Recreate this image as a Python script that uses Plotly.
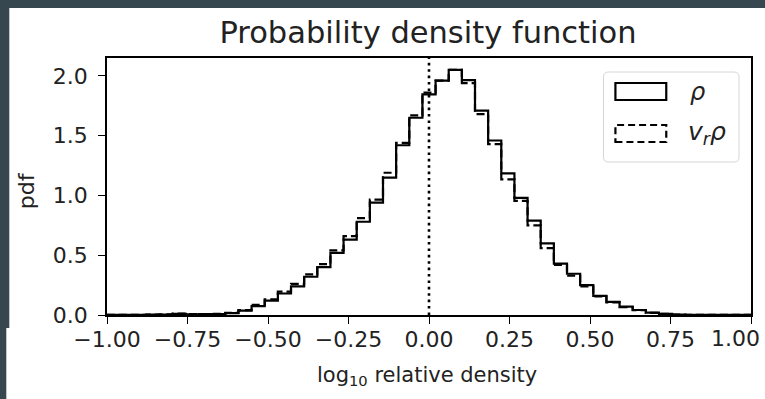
import numpy as np
import plotly.graph_objects as go

# ---- data ----
bin_edges = np.linspace(-1.0, 1.0, 50)  # 49 bins
rho_pdf = [0.002, 0.002, 0.002, 0.003, 0.004, 0.010, 0.006, 0.007, 0.008, 0.015,
           0.036, 0.075, 0.12, 0.18, 0.24, 0.32, 0.40, 0.52, 0.63, 0.78,
           0.94, 1.15, 1.42, 1.65, 1.845, 1.96, 2.05, 1.965, 1.71, 1.46,
           1.185, 0.98, 0.79, 0.60, 0.43, 0.345, 0.25, 0.16, 0.11, 0.07,
           0.042, 0.02, 0.01, 0.004, 0.002, 0.001, 0.001, 0.001, 0.001]
vr_rho_pdf = [0.002, 0.002, 0.002, 0.003, 0.005, 0.012, 0.007, 0.008, 0.009, 0.018,
              0.040, 0.085, 0.13, 0.195, 0.26, 0.34, 0.425, 0.54, 0.66, 0.81,
              0.965, 1.19, 1.44, 1.67, 1.86, 1.96, 2.05, 1.94, 1.68, 1.43,
              1.135, 0.955, 0.75, 0.56, 0.42, 0.33, 0.24, 0.155, 0.105, 0.065,
              0.04, 0.018, 0.009, 0.004, 0.002, 0.001, 0.001, 0.001, 0.001]
ref_line_x = 0.0
x_ticks = [-1.0, -0.75, -0.5, -0.25, 0.0, 0.25, 0.5, 0.75, 1.0]
x_tick_text = ["−1.00", "−0.75", "−0.50", "−0.25", "0.00", "0.25", "0.50", "0.75", ""]
last_x_tick_text = "1.00"
y_ticks = [0.0, 0.5, 1.0, 1.5, 2.0]
legend_labels = ["<i>ρ</i>", "<i>v<sub>r</sub>ρ</i>"]

W, H = 765, 399
L, R, T, B = 107, 753, 58, 315
PW, PH = R - L, B - T
DARK = "#37474f"
TXT = "#222"


def px(x):
    return (x - L) / PW


def py(y):
    return (B - y) / PH


def step_xy(edges, heights):
    xs = [edges[0]] + list(edges[:-1]) + [edges[-1]]
    ys = [0.0] + list(heights) + [0.0]
    return xs, ys


fig = go.Figure()
xs, ys = step_xy(bin_edges, rho_pdf)
fig.add_trace(go.Scatter(x=xs, y=ys, mode="lines", line=dict(color="black", width=2.2, shape="hv"),
                         showlegend=False, hoverinfo="skip"))
xs2, ys2 = step_xy(bin_edges, vr_rho_pdf)
fig.add_trace(go.Scatter(x=xs2, y=ys2, mode="lines",
                         line=dict(color="black", width=2.2, shape="hv", dash="8px,4px"),
                         showlegend=False, hoverinfo="skip"))

shapes = []
# dark page border strips (top and left)
shapes.append(dict(type="rect", xref="paper", yref="paper", x0=px(-5), x1=px(W + 5), y0=py(8), y1=py(-5),
                   fillcolor=DARK, line=dict(width=0), layer="below"))
shapes.append(dict(type="rect", xref="paper", yref="paper", x0=px(-5), x1=px(9), y0=py(328), y1=py(-5),
                   fillcolor=DARK, line=dict(width=0), layer="below"))
shapes.append(dict(type="rect", xref="paper", yref="paper", x0=px(-5), x1=px(6), y0=py(H + 5), y1=py(328),
                   fillcolor=DARK, line=dict(width=0), layer="below"))
# dotted reference line
shapes.append(dict(type="line", xref="x", yref="paper", x0=ref_line_x, x1=ref_line_x, y0=0, y1=1,
                   line=dict(color="black", width=2.6, dash="2.6px,3.8px")))
# legend frame (rounded)
lx0, lx1, ly0, ly1, r = 605, 741, 72, 162, 5
path = (f"M {px(lx0 + r)} {py(ly0)} L {px(lx1 - r)} {py(ly0)} "
        f"Q {px(lx1)} {py(ly0)} {px(lx1)} {py(ly0 + r)} L {px(lx1)} {py(ly1 - r)} "
        f"Q {px(lx1)} {py(ly1)} {px(lx1 - r)} {py(ly1)} L {px(lx0 + r)} {py(ly1)} "
        f"Q {px(lx0)} {py(ly1)} {px(lx0)} {py(ly1 - r)} L {px(lx0)} {py(ly0 + r)} "
        f"Q {px(lx0)} {py(ly0)} {px(lx0 + r)} {py(ly0)} Z")
shapes.append(dict(type="path", xref="paper", yref="paper", path=path,
                   fillcolor="rgba(255,255,255,0.8)", line=dict(color="#d6d6d6", width=1)))
# legend patches
shapes.append(dict(type="rect", xref="paper", yref="paper", x0=px(617), x1=px(668), y0=py(100), y1=py(83),
                   line=dict(color="black", width=2.2)))
shapes.append(dict(type="rect", xref="paper", yref="paper", x0=px(617), x1=px(668), y0=py(142), y1=py(125),
                   line=dict(color="black", width=2.2, dash="7px,4px")))

annotations = [
    dict(text=legend_labels[0], xref="paper", yref="paper", x=px(690), y=py(92), xanchor="left",
         yanchor="middle", showarrow=False, font=dict(size=24, color=TXT)),
    dict(text=legend_labels[1], xref="paper", yref="paper", x=px(688), y=py(133), xanchor="left",
         yanchor="middle", showarrow=False, font=dict(size=25, color=TXT)),
    dict(text="pdf", xref="paper", yref="paper", x=px(27), y=py(191), textangle=-90,
         xanchor="center", yanchor="middle", showarrow=False, font=dict(size=22, color=TXT)),
    dict(text="log<sub>10</sub> relative density", xref="paper", yref="paper", x=px(428), y=py(376),
         xanchor="center", yanchor="middle", showarrow=False, font=dict(size=21, color=TXT)),
    dict(text=last_x_tick_text, xref="paper", yref="paper", x=px(764), y=py(338),
         xanchor="right", yanchor="middle", showarrow=False, font=dict(size=22, color=TXT)),
]

fig.update_layout(
    width=W, height=H,
    margin=dict(l=L, r=W - R, t=T, b=H - B, pad=0),
    paper_bgcolor="white",
    plot_bgcolor="white",
    font=dict(family="DejaVu Sans", color=TXT, size=22),
    title=dict(text="Probability density function", x=px(429), xref="paper", xanchor="center",
               y=1 - 32 / H, yanchor="middle", font=dict(size=30.5, color=TXT)),
    xaxis=dict(range=[-1, 1], tickvals=x_ticks, ticktext=x_tick_text, showgrid=False, zeroline=False,
               showline=True, linecolor="black", linewidth=1.6, mirror=True,
               ticks="outside", ticklen=7, tickwidth=1.4, tickcolor="black",
               ticklabelstandoff=-3, ticklabeloverflow="allow",
               tickfont=dict(size=22, color=TXT)),
    yaxis=dict(range=[0, 2.15], tickvals=y_ticks, tickformat=".1f", showgrid=False, zeroline=False,
               showline=True, linecolor="black", linewidth=1.6, mirror=True,
               ticks="outside", ticklen=7, tickwidth=1.4, tickcolor="black",
               ticklabelstandoff=6,
               tickfont=dict(size=22, color=TXT)),
    shapes=shapes,
    annotations=annotations,
    showlegend=False,
)

fig.write_html("out.html")
